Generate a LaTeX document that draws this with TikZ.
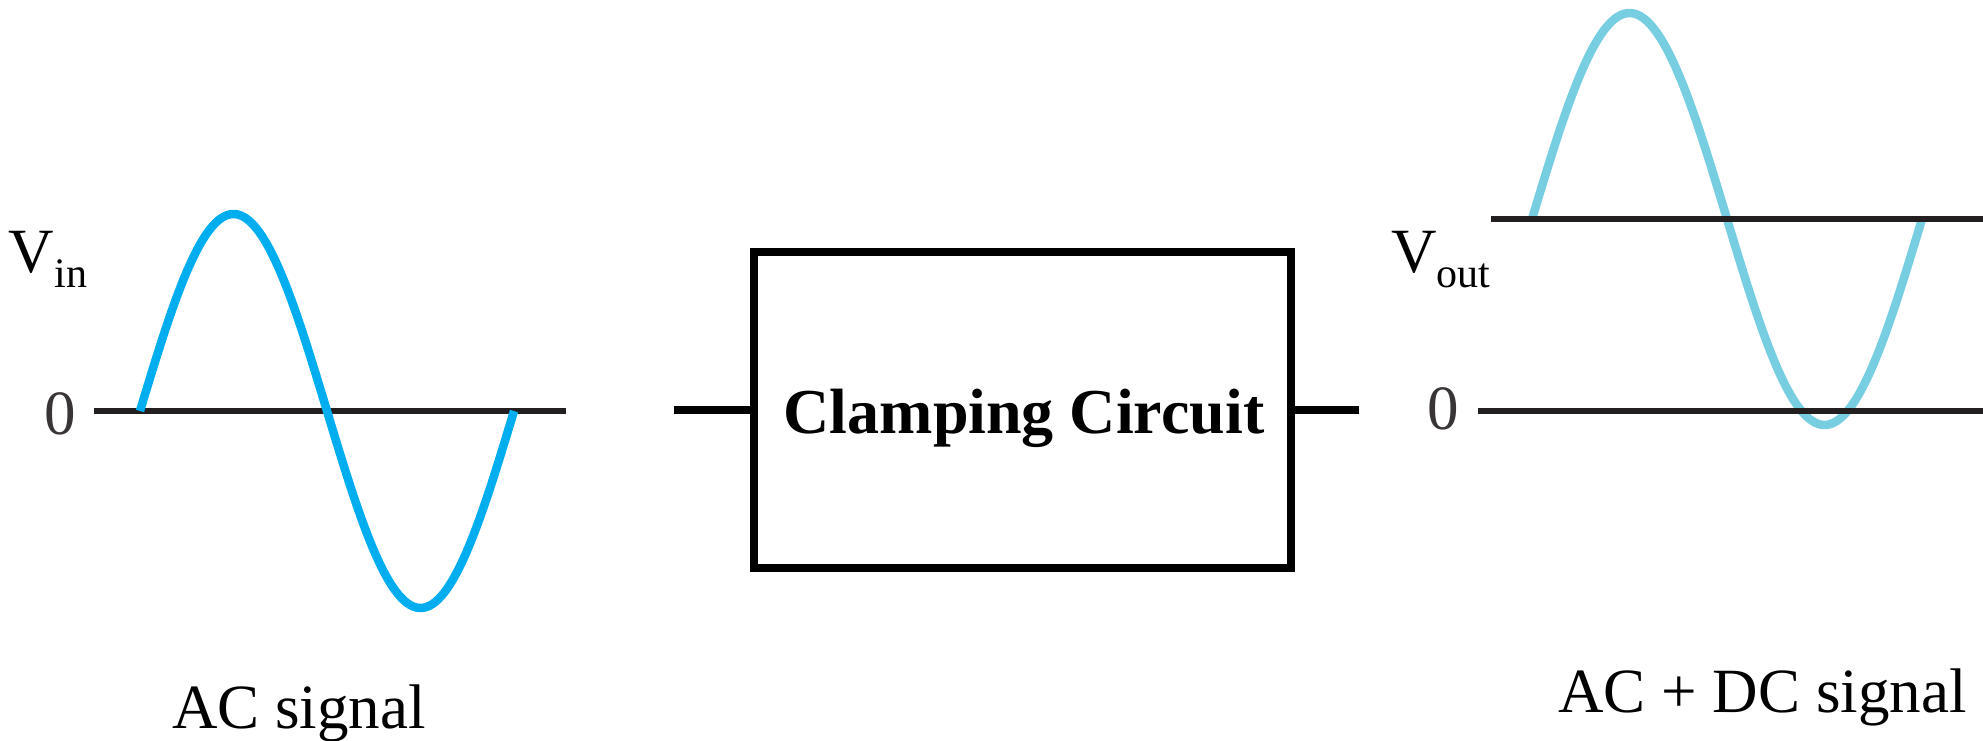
\documentclass[tikz,border=0pt]{standalone}
\usepackage{fontspec}
\setmainfont{Liberation Serif}
\definecolor{acblue}{RGB}{0,174,239}
\definecolor{dcblue}{RGB}{118,206,224}
\definecolor{ink}{RGB}{35,31,32}
\newcommand{\subtxt}[1]{\raisebox{-15pt}{\fontsize{42}{48}\selectfont #1}}
\begin{document}
\begin{tikzpicture}[x=1pt,y=-1pt,
  big/.style={inner sep=0pt,outer sep=0pt,font=\fontsize{63}{70}\selectfont},
  zero/.style={inner sep=0pt,outer sep=0pt,text=ink!90,font=\fontsize{63}{70}\selectfont},
  axis/.style={draw=ink,line width=6pt},
  wave/.style={line width=8.5pt},
  block/.style={draw=black,line width=8pt,inner sep=0pt,outer sep=0pt,minimum width=537pt,minimum height=316pt},
  lead/.style={draw=black,line width=8pt}]
\useasboundingbox (0,0) rectangle (1983,741);

% ---- left: AC input ----
\coordinate (axL1) at (94,411);
\coordinate (axL2) at (566,411);
\draw[axis] (axL1) -- (axL2);
\draw[wave,acblue] plot[domain=0:360,samples=120] ({140+1.038889*\x},{411-197*sin(\x)});
\node[zero,anchor=base] (zeroL) at (60,434) {0};
\node[big,anchor=base west] (vin) at (9,272) {V\subtxt{in}};
\node[big,anchor=base] (acl) at (299,728) {AC signal};

% ---- middle: clamping block ----
\node[block] (box) at (1022.5,410) {};
\node[big,anchor=base,font=\fontsize{64}{70}\selectfont\bfseries] (boxt) at (1024,433) {Clamping Circuit};
\coordinate (inL) at (674,410);
\coordinate (outR) at (1359,410);
\draw[lead] (inL) -- (box.west);
\draw[lead] (box.east) -- (outR);

% ---- right: AC + DC output ----
\coordinate (axR1) at (1491,219);
\coordinate (axR2) at (1983,219);
\coordinate (axZ1) at (1478,411);
\coordinate (axZ2) at (1983,411);
\draw[wave,dcblue] plot[domain=0:360,samples=120] ({1532+1.083333*\x},{219-206*sin(\x)});
\draw[axis] (axR1) -- (axR2);
\draw[axis] (axZ1) -- (axZ2);
\node[zero,anchor=base] (zeroR) at (1443.5,429) {0};
\node[big,anchor=base west] (vout) at (1391,272) {V\subtxt{out}};
\node[big,anchor=base] (acdc) at (1762.5,712) {AC + DC signal};
\end{tikzpicture}
\end{document}
